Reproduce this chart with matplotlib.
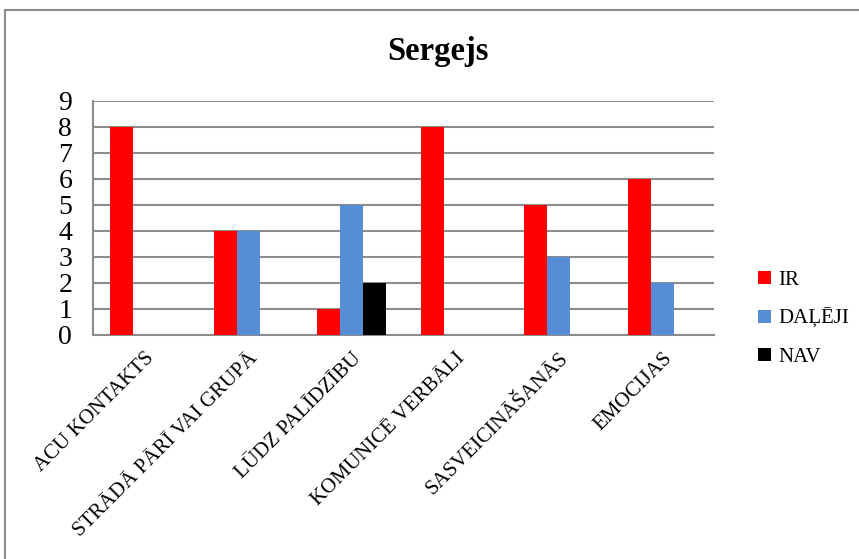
import matplotlib
matplotlib.use("Agg")
import matplotlib.pyplot as plt
from matplotlib.patches import Rectangle
import numpy as np

categories = ["ACU KONTAKTS", "STRĀDĀ PĀRĪ VAI GRUPĀ", "LŪDZ PALĪDZĪBU",
              "KOMUNICĒ VERBĀLI", "SASVEICINĀŠANĀS", "EMOCIJAS"]
series_names = ["IR", "DAĻĒJI", "NAV"]
ir = [8, 4, 1, 8, 5, 6]
daleji = [0, 4, 5, 0, 3, 2]
nav = [0, 0, 2, 0, 0, 0]
colors = ["#FF0000", "#558ED5", "#000000"]
yticks = list(range(0, 10))

plt.rcParams["font.family"] = ["Liberation Serif", "DejaVu Serif"]

W, H = 859, 559
fig = plt.figure(figsize=(W / 100, H / 100), dpi=100)

# outer chart frame
fig.patches.append(Rectangle((5 / W, 0 - 0.05), 1.1, (H - 10) / H + 0.05,
                             transform=fig.transFigure, fill=False,
                             edgecolor="#8c8c8c", linewidth=1.5))

left, right, top, bottom = 93, 714, 101, 335
ax = fig.add_axes([left / W, 1 - bottom / H, (right - left) / W, (bottom - top) / H])

x = np.arange(len(categories))
bw = 0.222
for i, (vals, name, c) in enumerate(zip([ir, daleji, nav], series_names, colors)):
    ax.bar(x + (i - 1) * bw, vals, width=bw, color=c, label=name, zorder=3)

ax.set_xlim(-0.5, len(categories) - 0.5)
ax.set_ylim(0, 9)
ax.set_yticks(yticks)
ax.set_yticklabels([str(t) for t in yticks], fontsize=20)
ax.yaxis.grid(True, color="#8c8c8c", linewidth=1.5, zorder=0)
ax.tick_params(axis="y", length=0, pad=15)
ax.tick_params(axis="x", length=0, pad=10)
ax.set_xticks(x)
ax.set_xticklabels(categories, rotation=45, ha="right", va="top",
                   rotation_mode="anchor", fontsize=15)
for s in ["top", "right"]:
    ax.spines[s].set_visible(False)
for s in ["left", "bottom"]:
    ax.spines[s].set_color("#8c8c8c")
    ax.spines[s].set_linewidth(1.5)

fig.text(438 / W, 1 - 52 / H, "Sergejs", ha="center", va="center",
         fontsize=23.5, fontweight="bold")

ax.legend(loc="center left", bbox_to_anchor=(750 / W, 1 - 319 / H),
          bbox_transform=fig.transFigure, frameon=False, fontsize=15,
          handlelength=0.6, handleheight=0.6, handletextpad=0.35,
          labelspacing=0.9, borderaxespad=0)

fig.savefig("out.png", dpi=100, facecolor="white")
